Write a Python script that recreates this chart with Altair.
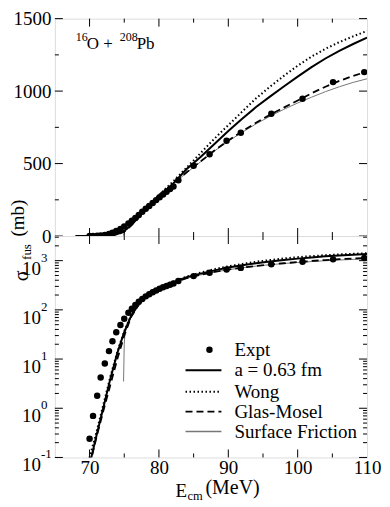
import altair as alt
import pandas as pd

# ---------------- data ----------------
expt_E = [70.0, 70.5, 71.1, 71.6, 72.2, 72.8, 73.3, 73.85, 74.45, 75.0, 75.6, 76.1,
          76.6, 77.1, 77.6, 78.1, 78.6, 79.1, 79.6, 80.1, 80.6, 81.1, 81.6, 82.1,
          82.8, 85.0, 87.3, 89.75, 91.8, 96.2, 100.7, 105.1, 109.6]
expt_sigma = [0.24, 0.70, 1.8, 4.2, 8.1, 14.5, 23, 35, 49, 66, 87, 105,
              125, 146, 167, 188, 208, 228, 248, 268, 287, 306, 324, 342,
              385, 485, 565, 658, 713, 844, 947, 1062, 1131]

a063_E = [68, 69, 69.5, 70.3, 71, 72, 73, 74, 75, 76, 77, 78, 79, 80, 82, 84, 86,
          88, 90, 92, 94, 96, 98, 100, 102, 104, 106, 108, 110]
a063_sigma = [0.002, 0.012, 0.035, 0.107, 0.28, 1.05, 4.0, 13.2, 35.5, 76, 126, 186,
              232, 275, 360, 462, 545, 635, 725, 810, 890, 962, 1032, 1100, 1165,
              1225, 1278, 1325, 1369]

wong_E = [68, 69, 69.5, 70, 71, 72, 73, 74, 75, 76, 77, 78, 79, 80, 82, 84, 86,
          88, 90, 92, 94, 96, 98, 100, 102, 104, 106, 108, 110]
wong_sigma = [0.003, 0.018, 0.045, 0.1, 0.33, 1.2, 4.4, 14, 37, 78, 128, 188,
              236, 282, 375, 472, 572, 672, 765, 858, 950, 1030, 1105, 1175, 1238,
              1292, 1338, 1378, 1415]

gm_E = [68, 69, 69.5, 70.3, 71, 72, 73, 74, 75, 76, 77, 78, 79, 80, 82, 84, 86,
        88, 90, 92, 94, 96, 98, 100, 102, 104, 106, 108, 110]
gm_sigma = [0.002, 0.01, 0.03, 0.1, 0.26, 0.9, 3.0, 10, 30, 72, 122, 183,
            230, 275, 358, 440, 515, 590, 660, 722, 782, 836, 886, 935, 985,
            1030, 1070, 1105, 1135]

sf_E = [74.9, 75.0, 75.1, 75.5, 76, 77, 78, 79, 80, 82, 84, 86, 88, 90, 92, 94,
        96, 98, 100, 102, 104, 106, 108, 110]
sf_sigma = [3.5, 20, 33, 52, 74, 122, 182, 228, 272, 356, 437, 512, 586, 655,
            716, 774, 826, 874, 918, 958, 996, 1030, 1060, 1085]

x_major = [70, 80, 90, 100]
x_minor = [75, 85, 95, 105]
x_labels = [70, 80, 90, 100, 110]
y1_major = [0, 500, 1000, 1500]
y1_minor = [250, 750, 1250]
y2_major = [0.1, 1, 10, 100, 1000]
y2_exponents = ["-1", "0", "1", "2", "3"]
y2_minor = [k * 10.0 ** d for d in range(-1, 4) for k in range(2, 10) if k * 10.0 ** d < 3162]
legend_labels = ["Expt", "a = 0.63 fm", "Wong", "Glas-Mosel", "Surface Friction"]

# ---------------- layout ----------------
W = 313
H1 = 218
H2 = 222
FONT = "Liberation Serif, Times New Roman, Times, serif"

x_scale = alt.Scale(domain=[65, 110], nice=False, zero=False)
y1_scale = alt.Scale(domain=[0, 1500], nice=False, zero=False)
y2_scale = alt.Scale(type="log", domain=[0.1, 3162.3], nice=False)

x_axis_bottom = alt.Axis(values=x_labels, title=None, ticks=False, domain=False, grid=False,
                         labelFont=FONT, labelFontSize=19, labelPadding=1, labelFlush=False,
                         labelColor="black", format="d")
y_axis_top = alt.Axis(values=y1_major, title=None, ticks=False, domain=False, grid=False,
                      labelFont=FONT, labelFontSize=19, labelPadding=4, labelFlush=False,
                      labelColor="black", format="d")

expt = pd.DataFrame({"E": expt_E, "sigma": expt_sigma})
a063 = pd.DataFrame({"E": a063_E, "sigma": a063_sigma})
wong = pd.DataFrame({"E": wong_E, "sigma": wong_sigma})
gm = pd.DataFrame({"E": gm_E, "sigma": gm_sigma})
sf = pd.DataFrame({"E": sf_E, "sigma": sf_sigma})
one = pd.DataFrame({"a": [0]})


def panel_layers(yscale, xaxis, yaxis):
    X = alt.X("E:Q", scale=x_scale, axis=xaxis)
    Y = alt.Y("sigma:Q", scale=yscale, axis=yaxis)
    return [
        alt.Chart(sf).mark_line(color="#777777", strokeWidth=1, clip=True).encode(x=X, y=Y),
        alt.Chart(gm).mark_line(color="black", strokeWidth=1.8, strokeDash=[7, 4], clip=True).encode(x=X, y=Y),
        alt.Chart(wong).mark_line(color="black", strokeWidth=2, strokeDash=[1.5, 2.5], clip=True).encode(x=X, y=Y),
        alt.Chart(a063).mark_line(color="black", strokeWidth=2, clip=True).encode(x=X, y=Y),
        alt.Chart(expt).mark_circle(color="black", size=42, opacity=1, clip=True).encode(x=X, y=Y),
    ]


def yticks(values, yscale, yaxis, length):
    d = pd.DataFrame({"v": values})
    Y = alt.Y("v:Q", scale=yscale, axis=yaxis)
    return [
        alt.Chart(d).mark_rule(color="black", strokeWidth=1).encode(y=Y, x=alt.value(0), x2=alt.value(length)),
        alt.Chart(d).mark_rule(color="black", strokeWidth=1).encode(y=Y, x=alt.value(W - length), x2=alt.value(W)),
    ]


def xticks(values, xaxis, length, H):
    d = pd.DataFrame({"v": values})
    X = alt.X("v:Q", scale=x_scale, axis=xaxis)
    return [
        alt.Chart(d).mark_rule(color="black", strokeWidth=1).encode(x=X, y=alt.value(0), y2=alt.value(length)),
        alt.Chart(d).mark_rule(color="black", strokeWidth=1).encode(x=X, y=alt.value(H - length), y2=alt.value(H)),
    ]


def txt(s, x, y, size, align="left", baseline="alphabetic", angle=0, color="black"):
    kw = dict(font=FONT, fontSize=size, align=align, baseline=baseline, color=color)
    if angle:
        kw["angle"] = angle
    return alt.Chart(one).mark_text(**kw).encode(x=alt.value(x), y=alt.value(y), text=alt.value(s))


# ---------------- top panel (linear) ----------------
top_layers = panel_layers(y1_scale, None, y_axis_top)
top_layers += yticks(y1_major, y1_scale, y_axis_top, 8) + yticks(y1_minor, y1_scale, y_axis_top, 4)
top_layers += xticks(x_major, None, 8, H1) + xticks(x_minor, None, 4, H1)
top_layers += [
    txt("16", 21, 22, 12),
    txt("O +", 32, 30, 17),
    txt("208", 65, 22, 12),
    txt("Pb", 82, 30, 17),
    txt("(mb)", -37, H1 - 18, 19, align="center", baseline="middle", angle=270),
    txt("fus", -28, H1 + 16, 13, align="center", baseline="middle", angle=270),
    txt("σ", -33, H1 + 40, 20, align="center", baseline="middle", angle=270),
]
top = alt.layer(*top_layers).properties(width=W, height=H1)

# ---------------- bottom panel (log) ----------------
bot_layers = panel_layers(y2_scale, x_axis_bottom, None)
bot_layers += yticks(y2_major, y2_scale, None, 8) + yticks(y2_minor, y2_scale, None, 4)
bot_layers += xticks(x_major, x_axis_bottom, 8, H2) + xticks(x_minor, x_axis_bottom, 4, H2)

lab = pd.DataFrame({"v": y2_major, "exp": y2_exponents})
Ylab = alt.Y("v:Q", scale=y2_scale, axis=None)
bot_layers += [
    alt.Chart(lab).mark_text(font=FONT, fontSize=19, align="right", baseline="middle", dy=8,
                             color="black").encode(y=Ylab, x=alt.value(-14), text=alt.value("10")),
    alt.Chart(lab).mark_text(font=FONT, fontSize=13, align="left", baseline="middle", dy=-3,
                             color="black").encode(y=Ylab, x=alt.value(-14), text="exp:N"),
]

# legend
ly = [H2 - 108, H2 - 87.5, H2 - 66, H2 - 46, H2 - 26]
bot_layers += [
    alt.Chart(one).mark_circle(color="black", size=42, opacity=1).encode(x=alt.value(155), y=alt.value(ly[0])),
    alt.Chart(one).mark_rule(color="black", strokeWidth=2).encode(x=alt.value(131), x2=alt.value(167), y=alt.value(ly[1])),
    alt.Chart(one).mark_rule(color="black", strokeWidth=2, strokeDash=[1.5, 2.5]).encode(x=alt.value(131), x2=alt.value(167), y=alt.value(ly[2])),
    alt.Chart(one).mark_rule(color="black", strokeWidth=1.8, strokeDash=[7, 4]).encode(x=alt.value(131), x2=alt.value(167), y=alt.value(ly[3])),
    alt.Chart(one).mark_rule(color="#777777", strokeWidth=1.5).encode(x=alt.value(131), x2=alt.value(167), y=alt.value(ly[4])),
]
for lbl, yy in zip(legend_labels, ly):
    bot_layers.append(txt(lbl, 180, yy, 19, baseline="middle"))

# x axis title
bot_layers += [
    txt("E", 121, H2 + 40, 19),
    txt("cm", 133, H2 + 43, 12.5),
    txt("(MeV)", 151, H2 + 37, 20),
]
bottom = alt.layer(*bot_layers).properties(width=W, height=H2)

chart = alt.vconcat(top, bottom, spacing=0, bounds="flush").properties(
    padding={"left": 0, "top": 0, "right": 0, "bottom": 0}
).configure_view(stroke="black", strokeWidth=1.5).configure(background="white")

chart.save("out.html", embed_options={"renderer": "svg", "actions": False})
